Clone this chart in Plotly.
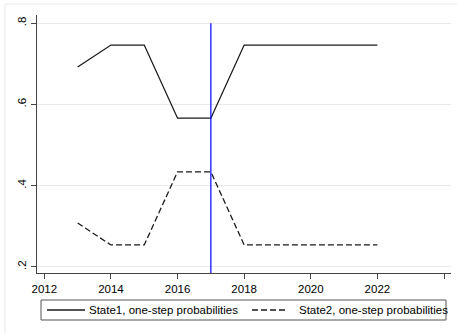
import plotly.graph_objects as go

# Transition probabilities by year
years = [2013, 2014, 2015, 2016, 2017, 2018, 2019, 2020, 2021, 2022]
state1 = [0.692, 0.746, 0.746, 0.566, 0.566, 0.746, 0.746, 0.746, 0.746, 0.746]
state2 = [0.308, 0.254, 0.254, 0.434, 0.434, 0.254, 0.254, 0.254, 0.254, 0.254]
names = ["State1, one-step probabilities", "State2, one-step probabilities"]
break_year = 2017

x_ticks = [2012, 2014, 2016, 2018, 2020, 2022, 2024]
y_ticks = [0.2, 0.4, 0.6, 0.8]
y_labels = [".2", ".4", ".6", ".8"]

ymin, ymax = 0.185, 0.82
line_color = "#1a1a1a"
dash_style = "6px,3px"

# plot area geometry in pixels (used to place the legend box below the axes)
L, R, T, B = 37, 451, 15, 273
W, H = R - L, B - T


def px(x):
    return (x - L) / W


def py(y):
    return (B - y) / H


fig = go.Figure()
fig.add_trace(go.Scatter(x=years, y=state1, mode="lines", name=names[0],
                         showlegend=False,
                         line=dict(color=line_color, width=1.3)))
fig.add_trace(go.Scatter(x=years, y=state2, mode="lines", name=names[1],
                         showlegend=False,
                         line=dict(color=line_color, width=1.3, dash=dash_style)))

# vertical reference line
fig.add_shape(type="line", x0=break_year, x1=break_year, y0=ymin, y1=0.8,
              xref="x", yref="y", line=dict(color="#0000ff", width=1.2))

# outer graph frame
fig.add_shape(type="rect", xref="paper", yref="paper",
              x0=px(5), x1=px(470), y0=py(345), y1=py(4),
              line=dict(color="#e6e6e6", width=1), layer="below")

# legend box with line samples and labels
fig.add_shape(type="rect", xref="paper", yref="paper",
              x0=px(41), x1=px(446), y0=py(320), y1=py(300),
              line=dict(color="#555", width=1), fillcolor="white")
fig.add_shape(type="line", xref="paper", yref="paper",
              x0=px(47), x1=px(85), y0=py(310), y1=py(310),
              line=dict(color=line_color, width=1.3))
fig.add_shape(type="line", xref="paper", yref="paper",
              x0=px(252), x1=px(288), y0=py(310), y1=py(310),
              line=dict(color=line_color, width=1.3, dash=dash_style))
for name, xs in zip(names, [88, 298]):
    fig.add_annotation(text=name, xref="paper", yref="paper",
                       x=px(xs), y=py(310), xanchor="left", yanchor="middle",
                       showarrow=False, font=dict(size=11.5), borderpad=0)

fig.update_layout(
    width=457, height=333,
    margin=dict(l=L, r=457 - R, t=T, b=333 - B),
    paper_bgcolor="white", plot_bgcolor="white",
    font=dict(family="Liberation Sans, Arial, sans-serif", size=11, color="#000"),
    showlegend=False,
    xaxis=dict(range=[2011.78, 2024.21], tickvals=x_ticks, showgrid=False,
               zeroline=False, showline=True, linecolor="#444", linewidth=1,
               ticks="outside", ticklen=5, tickcolor="#444",
               tickfont=dict(size=11.5), automargin=False),
    yaxis=dict(range=[ymin, ymax], tickvals=y_ticks, ticktext=y_labels,
               showgrid=True, gridcolor="#eaeaea", gridwidth=1,
               zeroline=False, showline=True, linecolor="#444", linewidth=1,
               ticks="outside", ticklen=5, tickcolor="#444", tickangle=-90,
               tickfont=dict(size=11.5), ticklabelstandoff=0,
               automargin=False),
)

fig.write_html("out.html")
